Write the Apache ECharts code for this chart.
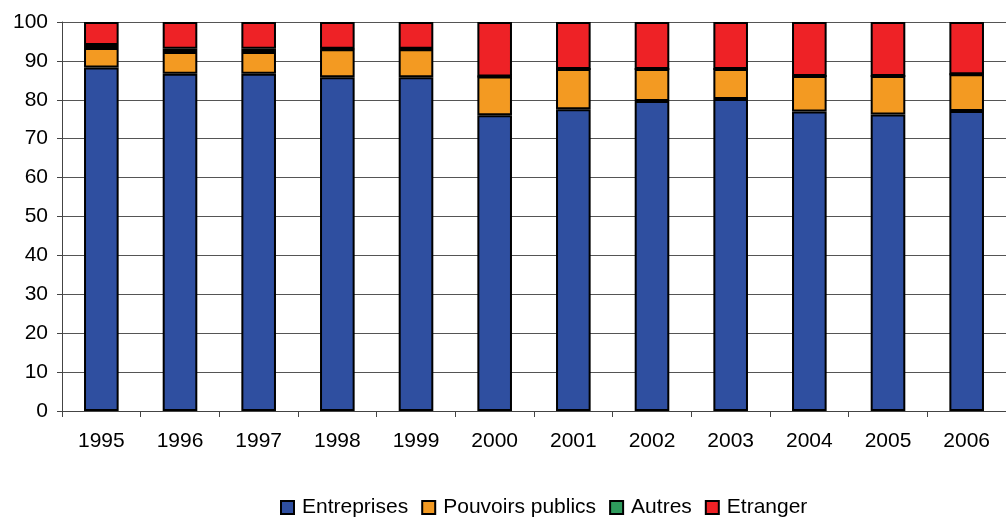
<!DOCTYPE html>
<html>
<head>
<meta charset="utf-8">
<script src="https://cdn.jsdelivr.net/npm/echarts@6/dist/echarts.min.js"></script>
<style>
  html, body { margin: 0; padding: 0; background: #fff; }
  #chart { width: 1006px; height: 517px; }
</style>
</head>
<body>
<div id="chart"></div>
<script>
// années
const years = ['1995', '1996', '1997', '1998', '1999', '2000', '2001', '2002', '2003', '2004', '2005', '2006'];
// parts en %
const entreprises = [88.3, 86.7, 86.7, 85.8, 85.8, 76.0, 77.6, 79.7, 80.2, 77.0, 76.2, 77.1];
const pouvoirsPublics = [5.0, 5.6, 5.6, 7.2, 7.2, 10.0, 10.3, 8.2, 7.7, 9.1, 9.9, 9.5];
const autres = [0.8, 0.8, 0.8, 0.1, 0.1, 0, 0, 0, 0, 0, 0, 0];
const etranger = [5.9, 6.9, 6.9, 6.9, 6.9, 14.0, 12.1, 12.1, 12.1, 13.9, 13.9, 13.4];
const yTicks = [0, 10, 20, 30, 40, 50, 60, 70, 80, 90, 100];

const font = 'Liberation Sans, Arial, sans-serif';

function mkSerie(name, data, color) {
  return {
    name: name,
    type: 'bar',
    stack: 'total',
    data: data,
    barWidth: '44%',
    itemStyle: { color: color, borderColor: '#000', borderWidth: 2 },
  };
}

const chart = echarts.init(document.getElementById('chart'));
chart.setOption({
  animation: false,
  textStyle: { fontFamily: font },
  grid: { left: 62, top: 22, width: 953, height: 389, containLabel: false },
  legend: {
    bottom: -6,
    left: 275,
    itemWidth: 13,
    itemHeight: 13,
    itemGap: 13,
    icon: 'rect',
    textStyle: { fontSize: 21, color: '#000', fontFamily: font, padding: [0, 0, 0, 3] },
    data: ['Entreprises', 'Pouvoirs publics', 'Autres', 'Etranger'],
  },
  xAxis: {
    type: 'category',
    data: years,
    axisLine: { lineStyle: { color: '#444', width: 1 } },
    axisTick: { show: true, length: 6, inside: false, lineStyle: { color: '#444' } },
    axisLabel: { fontSize: 21, color: '#000', margin: 20, fontFamily: font },
  },
  yAxis: {
    type: 'value',
    min: yTicks[0],
    max: yTicks[yTicks.length - 1],
    interval: 10,
    axisLine: { show: true, lineStyle: { color: '#444', width: 1 } },
    axisTick: { show: true, length: 5, lineStyle: { color: '#444' } },
    axisLabel: { fontSize: 21, color: '#000', margin: 14, fontFamily: font },
    splitLine: { lineStyle: { color: '#555', width: 1 } },
  },
  series: [
    mkSerie('Entreprises', entreprises, '#2F4FA0'),
    mkSerie('Pouvoirs publics', pouvoirsPublics, '#F39A22'),
    mkSerie('Autres', autres, '#2E9A5C'),
    mkSerie('Etranger', etranger, '#EE2226'),
  ],
});
</script>
</body>
</html>
